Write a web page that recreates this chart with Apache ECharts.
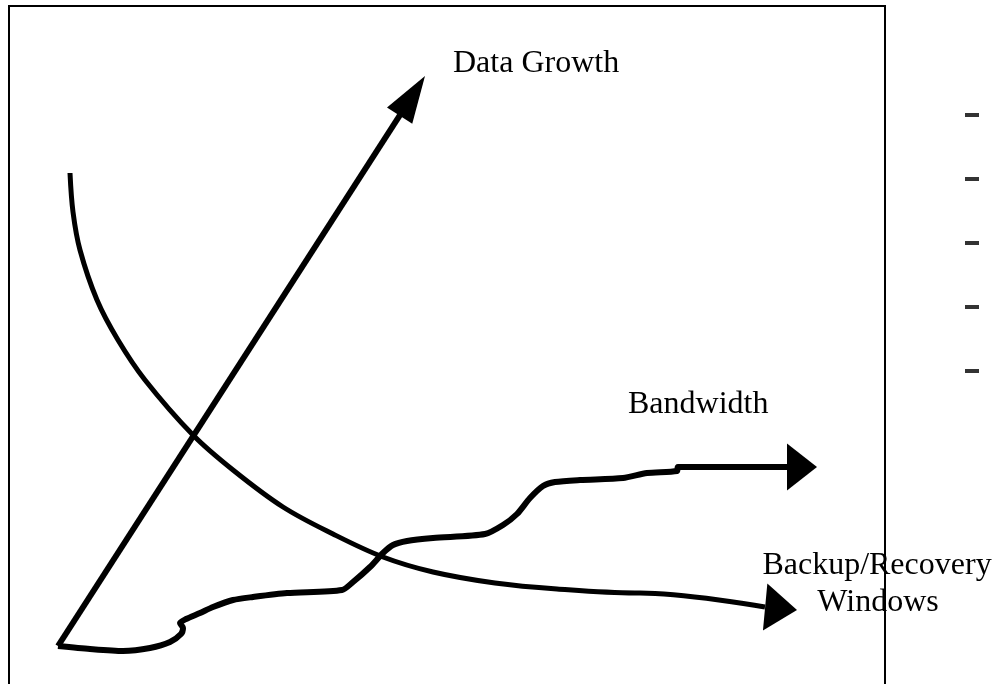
<!DOCTYPE html>
<html><head><meta charset="utf-8">
<script src="https://cdn.jsdelivr.net/npm/echarts@6/dist/echarts.min.js"></script>
<style>html,body{margin:0;padding:0;background:#fff}#c{width:992px;height:684px}</style>
</head><body><div id="c"></div>
<script>
// Diagram space: x 0..992, y 0..684 (y grows downward)
const dataGrowth = [[58,646],[400,115]];
const dataGrowthTip = [425,76];

const bandwidth = [[58,646],[90,649],[123,651],[150,648],[170,642],[181,634],[183,628],[180,623],[186,619],[200,613],[213,607],[233,600],[253,597],[287,593],[342,590],[353,582],[370,567],[383,553],[393,545],[407,541],[433,538],[485,534],[503,525],[517,514],[530,498],[543,486],[555,482],[580,480],[623,478],[647,473],[677,471],[678,467],[787,467]];
const bandwidthTip = [817,467];

const backupWindows = [[70,173],[73,212],[80,250],[97,300],[118,340],[145,380],[193,435],[233,470],[283,507],[333,534],[383,557],[433,572],[495,583],[557,589],[635,593],[640,593],[765,607]];
const backupWindowsTip = [797,610];

const legendMarks = [[972,115],[972,179],[972,243],[972,307],[972,371]];

const labelTexts = ['Data Growth','Bandwidth','Backup/Recovery','Windows'];

const FONT = '32px "Liberation Serif", "Times New Roman", serif';

function arrowHead(from, tip, size) {
  return {
    silent: true,
    animation: false,
    symbol: ['none','triangle'],
    lineStyle: {width: 0, color: '#000', type: 'solid'},
    label: {show: false},
    emphasis: {disabled: true},
    data: [[
      {coord: from, symbol: 'none'},
      {coord: tip, symbol: 'triangle', symbolSize: size, symbolOffset: [0, '50%']}
    ]]
  };
}

const chart = echarts.init(document.getElementById('c'), null, {renderer: 'canvas'});
chart.setOption({
  animation: false,
  backgroundColor: '#fff',
  grid: {left: 0, right: 0, top: 0, bottom: 0},
  xAxis: {type: 'value', min: 0, max: 992, show: false},
  yAxis: {type: 'value', min: 0, max: 684, inverse: true, show: false},
  series: [
    {
      type: 'line', name: 'Data Growth', data: dataGrowth, showSymbol: false, symbol: 'none',
      lineStyle: {color: '#000', width: 6}, silent: true,
      markLine: arrowHead(dataGrowth[dataGrowth.length-1], dataGrowthTip, [30,47])
    },
    {
      type: 'line', name: 'Bandwidth', data: bandwidth, showSymbol: false, symbol: 'none', smooth: 0.25,
      lineStyle: {color: '#000', width: 6, join: 'round'}, silent: true,
      markLine: arrowHead(bandwidth[bandwidth.length-1], bandwidthTip, [47,30])
    },
    {
      type: 'line', name: 'Backup/Recovery Windows', data: backupWindows, showSymbol: false, symbol: 'none', smooth: 0.35,
      lineStyle: {color: '#000', width: 5, join: 'round'}, silent: true,
      markLine: arrowHead(backupWindows[backupWindows.length-1], backupWindowsTip, [47,32])
    },
    {
      type: 'scatter', data: legendMarks, symbol: 'rect', symbolSize: [14,4],
      itemStyle: {color: '#000'}, silent: true
    }
  ],
  graphic: [
    {type: 'rect', silent: true, z: -1, shape: {x: 9, y: 6, width: 876, height: 720},
     style: {fill: 'none', stroke: '#000', lineWidth: 2}},
    {type: 'text', silent: true, x: 453, y: 64,
     style: {text: labelTexts[0], font: FONT, fill: '#000', align: 'left', verticalAlign: 'middle'}},
    {type: 'text', silent: true, x: 628, y: 405,
     style: {text: labelTexts[1], font: FONT, fill: '#000', align: 'left', verticalAlign: 'middle'}},
    {type: 'text', silent: true, x: 877, y: 566,
     style: {text: labelTexts[2], font: FONT, fill: '#000', align: 'center', verticalAlign: 'middle'}},
    {type: 'text', silent: true, x: 878, y: 603,
     style: {text: labelTexts[3], font: FONT, fill: '#000', align: 'center', verticalAlign: 'middle'}}
  ]
});
</script>
</body></html>
